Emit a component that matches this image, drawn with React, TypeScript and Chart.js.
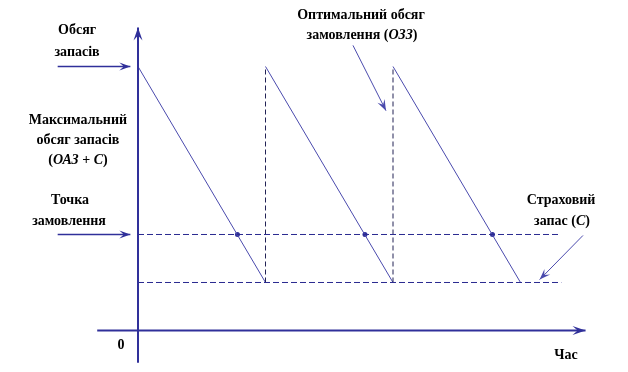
import React, { useEffect, useRef } from "react";
import { Chart, registerables } from "chart.js";

Chart.register(...registerables);

// ---- data (time units, stock units) ----
const stockX = [0, 10, 10, 20, 20, 30];
const stockY = [55, 10, 55, 10, 55, 10];
const reorderLevel = 20;
const safetyStock = 10;
const levelLineEnd = 33.1;
const reorderX = [7.8, 17.8, 27.8];
const reorderY = [20, 20, 20];

// axes (drawn as data lines)
const yAxisX = [0, 0];
const yAxisY = [-6.7, 63.1];
const xAxisX = [-3.2, 35.1];
const xAxisY = [0, 0];

// annotation arrows [start, end]
const arrowStockX = [-6.3, -0.6];
const arrowStockY = [55, 55];
const arrowReorderX = [-6.3, -0.6];
const arrowReorderY = [20, 20];
const arrowOrderX = [16.86, 19.45];
const arrowOrderY = [59.4, 45.8];
const arrowSafetyX = [34.9, 31.5];
const arrowSafetyY = [19.8, 10.6];

type Run = { t: string; i?: boolean };
const labels: { runs: Run[]; x: number; y: number }[] = [
  { runs: [{ t: "Обсяг" }], x: -4.78, y: 62.5 },
  { runs: [{ t: "запасів" }], x: -4.78, y: 57.9 },
  { runs: [{ t: "Максимальний" }], x: -4.71, y: 43.75 },
  { runs: [{ t: "обсяг запасів" }], x: -4.71, y: 39.6 },
  { runs: [{ t: "(" }, { t: "ОАЗ", i: true }, { t: " + " }, { t: "С", i: true }, { t: ")" }], x: -4.71, y: 35.4 },
  { runs: [{ t: "Точка" }], x: -5.33, y: 27.1 },
  { runs: [{ t: "замовлення" }], x: -5.41, y: 22.7 },
  { runs: [{ t: "Оптимальний обсяг" }], x: 17.49, y: 65.6 },
  { runs: [{ t: "замовлення (" }, { t: "ОЗЗ", i: true }, { t: ")" }], x: 17.57, y: 61.5 },
  { runs: [{ t: "Страховий" }], x: 33.18, y: 27.1 },
  { runs: [{ t: "запас (" }, { t: "С", i: true }, { t: ")" }], x: 33.25, y: 22.7 },
  { runs: [{ t: "0" }], x: -1.33, y: -3.1 },
  { runs: [{ t: "Час" }], x: 33.57, y: -5.2 },
];

const AXIS = "#30309a";
const DASH = "#2a2a90";
const LINE = "#4a4aad";

const pts = (xs: number[], ys: number[]) => xs.map((x, i) => ({ x, y: ys[i] }));

export default function App() {
  const ref = useRef<HTMLCanvasElement | null>(null);
  useEffect(() => {
    const canvas = ref.current!;
    const arrowSets = ["yAxis", "xAxis", "aStock", "aReorder", "aOrder", "aSafety"];
    const plugin = {
      id: "deco",
      afterDatasetsDraw(chart: any) {
        const ctx = chart.ctx;
        const xs = chart.scales.x;
        const ys = chart.scales.y;
        // arrowheads
        chart.data.datasets.forEach((ds: any) => {
          if (!arrowSets.includes(ds.label)) return;
          const d = ds.data;
          const a = d[d.length - 2];
          const b = d[d.length - 1];
          const x1 = xs.getPixelForValue(a.x), y1 = ys.getPixelForValue(a.y);
          const x2 = xs.getPixelForValue(b.x), y2 = ys.getPixelForValue(b.y);
          const ang = Math.atan2(y2 - y1, x2 - x1);
          const L = ds.label.endsWith("Axis") ? 13 : 11;
          const W = ds.label.endsWith("Axis") ? 4.5 : 4;
          ctx.save();
          ctx.translate(x2, y2);
          ctx.rotate(ang);
          ctx.fillStyle = ds.borderColor;
          ctx.beginPath();
          ctx.moveTo(0, 0);
          ctx.lineTo(-L, -W);
          ctx.lineTo(-L * 0.6, 0);
          ctx.lineTo(-L, W);
          ctx.closePath();
          ctx.fill();
          ctx.restore();
        });
        // labels
        ctx.save();
        ctx.fillStyle = "#000";
        ctx.textBaseline = "middle";
        ctx.textAlign = "left";
        labels.forEach((lb) => {
          const fonts = lb.runs.map((r) =>
            (r.i ? "italic " : "") + 'bold 14px "Liberation Serif", "Times New Roman", serif'
          );
          let total = 0;
          const widths = lb.runs.map((r, i) => {
            ctx.font = fonts[i];
            const w = ctx.measureText(r.t).width;
            total += w;
            return w;
          });
          let cx = xs.getPixelForValue(lb.x) - total / 2;
          const cy = ys.getPixelForValue(lb.y);
          lb.runs.forEach((r, i) => {
            ctx.font = fonts[i];
            ctx.fillText(r.t, cx, cy);
            cx += widths[i];
          });
        });
        ctx.restore();
      },
    };

    const line = (label: string, data: any[], color: string, width: number, dash?: number[]) => ({
      type: "line" as const,
      label,
      data,
      borderColor: color,
      backgroundColor: color,
      borderWidth: width,
      borderDash: dash || [],
      pointRadius: 0,
      fill: false,
      tension: 0,
      clip: false as any,
    });

    const chart = new Chart(canvas, {
      type: "line",
      data: {
        datasets: [
          line("yAxis", pts(yAxisX, yAxisY), AXIS, 2),
          line("xAxis", pts(xAxisX, xAxisY), AXIS, 2),
          line("reorder", pts([0, levelLineEnd], [reorderLevel, reorderLevel]), DASH, 1, [6, 3]),
          line("safety", pts([0, levelLineEnd + 0.1], [safetyStock, safetyStock]), DASH, 1, [6, 3]),
          {
            ...line("stock", pts(stockX, stockY), LINE, 1),
            segment: {
              borderDash: (c: any) => (c.p0.parsed.x === c.p1.parsed.x ? [5, 3] : undefined),
              borderColor: (c: any) => (c.p0.parsed.x === c.p1.parsed.x ? "#222255" : undefined),
            },
          } as any,
          {
            ...line("dots", pts(reorderX, reorderY), AXIS, 0),
            showLine: false,
            pointRadius: 2.5,
            pointBackgroundColor: AXIS,
            pointBorderWidth: 0,
          } as any,
          line("aStock", pts(arrowStockX, arrowStockY), AXIS, 1.5),
          line("aReorder", pts(arrowReorderX, arrowReorderY), AXIS, 1.5),
          line("aOrder", pts(arrowOrderX, arrowOrderY), LINE, 1),
          line("aSafety", pts(arrowSafetyX, arrowSafetyY), LINE, 1),
        ],
      },
      options: {
        responsive: false,
        animation: false,
        layout: { padding: 0, autoPadding: false },
        plugins: { legend: { display: false }, tooltip: { enabled: false } },
        scales: {
          x: { type: "linear", min: -10.824, max: 38.431, display: false },
          y: { type: "linear", min: -8.646, max: 68.854, display: false },
        },
      },
      plugins: [plugin],
    });
    return () => chart.destroy();
  }, []);

  return (
    <div style={{ position: "fixed", left: 0, top: 0, width: 628, height: 372, background: "#fff" }}>
      <canvas ref={ref} width={628} height={372} style={{ width: 628, height: 372, display: "block" }} />
    </div>
  );
}
